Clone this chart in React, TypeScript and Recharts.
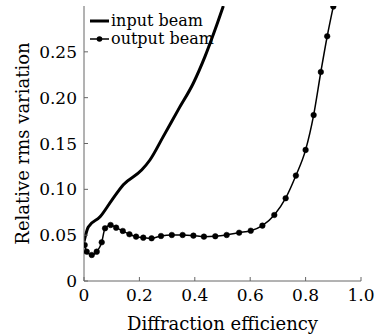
import { LineChart, Line, XAxis, YAxis } from 'recharts';

// input beam (thick line, no markers)
const inputX = [0, 0.0155, 0.058, 0.1, 0.142, 0.208, 0.238, 0.286, 0.34, 0.395, 0.437, 0.473, 0.503];
const inputY = [0.043, 0.059, 0.07, 0.088, 0.105, 0.121, 0.132, 0.1575, 0.1867, 0.216, 0.245, 0.274, 0.3];

// output beam (thin line with dot markers)
const outputX = [
  0.0025, 0.0097, 0.028, 0.046, 0.064, 0.076, 0.096, 0.116, 0.14, 0.164, 0.188, 0.214, 0.244, 0.278, 0.317,
  0.356, 0.395, 0.433, 0.474, 0.515, 0.56, 0.602, 0.644, 0.687, 0.728, 0.765, 0.8, 0.829, 0.855, 0.878, 0.9,
];
const outputY = [
  0.0393, 0.032, 0.0284, 0.032, 0.0422, 0.0575, 0.0611, 0.0582, 0.0546, 0.051, 0.0484, 0.0473, 0.0466, 0.0491,
  0.0502, 0.0502, 0.0495, 0.0484, 0.0488, 0.0502, 0.0527, 0.0549, 0.0604, 0.072, 0.0903, 0.115, 0.143, 0.181,
  0.228, 0.267, 0.2995,
];

const xTicks = [0, 0.2, 0.4, 0.6, 0.8, 1.0];
const yTicks = [0, 0.05, 0.1, 0.15, 0.2, 0.25];

const inputData = inputX.map((x, i) => ({ x, y: inputY[i] }));
const outputData = outputX.map((x, i) => ({ x, y: outputY[i] }));

const FONT = '"DejaVu Serif", serif';
const AXIS = '#666';
const TEXT = '#000';
const TICK_LEN = 4;

const fmtX = (v: number) => (v === 0 ? '0' : v.toFixed(1));
const fmtY = (v: number) => (v === 0 ? '0' : v.toFixed(2));

// ticks point inward, labels outside
const BottomTick = ({ x, y, payload }: any) => (
  <g>
    <line x1={x} x2={x} y1={y} y2={y - TICK_LEN} stroke={AXIS} />
    <text x={x} y={y + 20} textAnchor="middle" fontSize={17} fontFamily={FONT} fill={TEXT}>
      {fmtX(payload.value)}
    </text>
  </g>
);

const LeftTick = ({ x, y, payload }: any) => (
  <g>
    <line x1={x} x2={x + TICK_LEN} y1={y} y2={y} stroke={AXIS} />
    <text x={x - 7} y={y + 6} textAnchor="end" fontSize={17} fontFamily={FONT} fill={TEXT}>
      {fmtY(payload.value)}
    </text>
  </g>
);

const TopTick = ({ x, y }: any) => <line x1={x} x2={x} y1={y} y2={y + TICK_LEN} stroke={AXIS} />;
const RightTick = ({ x, y }: any) => <line x1={x} x2={x - TICK_LEN} y1={y} y2={y} stroke={AXIS} />;

const LegendBox = () => (
  <div
    style={{
      position: 'absolute',
      left: 89,
      top: 12,
      fontFamily: FONT,
      fontSize: 16,
      lineHeight: '18px',
      color: TEXT,
      whiteSpace: 'nowrap',
    }}
  >
    <div style={{ display: 'flex', alignItems: 'center' }}>
      <svg width={22} height={18}>
        <line x1={1} x2={20} y1={9} y2={9} stroke="#000" strokeWidth={3} />
      </svg>
      <span>input beam</span>
    </div>
    <div style={{ display: 'flex', alignItems: 'center' }}>
      <svg width={22} height={18}>
        <line x1={1} x2={20} y1={9} y2={9} stroke="#000" strokeWidth={1.5} />
        <circle cx={10.5} cy={9} r={2.8} fill="#000" />
      </svg>
      <span>output beam</span>
    </div>
  </div>
);

export default function App() {
  return (
    <div style={{ position: 'absolute', left: 0, top: 0, width: 378, height: 334, background: '#fff' }}>
      <LineChart width={378} height={334} margin={{ top: 6, right: 17, bottom: 0, left: 0 }}>
        <XAxis
          dataKey="x"
          type="number"
          domain={[0, 1]}
          ticks={xTicks}
          tick={BottomTick}
          tickSize={0}
          tickMargin={0}
          height={53}
          stroke={AXIS}
          allowDataOverflow
          label={{
            value: 'Diffraction efficiency',
            position: 'insideBottom',
            offset: 4,
            fontSize: 18,
            fontFamily: FONT,
            fill: TEXT,
          }}
        />
        <XAxis
          xAxisId="top"
          orientation="top"
          dataKey="x"
          type="number"
          domain={[0, 1]}
          ticks={xTicks}
          tick={TopTick}
          tickSize={0}
          tickMargin={0}
          height={0}
          stroke={AXIS}
        />
        <YAxis
          type="number"
          domain={[0, 0.3]}
          ticks={yTicks}
          tick={LeftTick}
          tickSize={0}
          tickMargin={0}
          width={84}
          stroke={AXIS}
          allowDataOverflow
          label={{
            value: 'Relative rms variation',
            angle: -90,
            position: 'insideLeft',
            offset: 23,
            fontSize: 18,
            fontFamily: FONT,
            fill: TEXT,
            style: { textAnchor: 'middle' },
          }}
        />
        <YAxis
          yAxisId="right"
          orientation="right"
          type="number"
          domain={[0, 0.3]}
          ticks={yTicks}
          tick={RightTick}
          tickSize={0}
          tickMargin={0}
          width={0}
          stroke={AXIS}
        />
        <Line
          data={inputData}
          dataKey="y"
          type="monotone"
          stroke="#000"
          strokeWidth={3}
          dot={false}
          isAnimationActive={false}
        />
        <Line
          data={outputData}
          dataKey="y"
          type="monotone"
          stroke="#000"
          strokeWidth={1.5}
          dot={{ r: 2.8, fill: '#000', stroke: '#000', strokeWidth: 0.5 }}
          isAnimationActive={false}
        />
      </LineChart>
      <LegendBox />
    </div>
  );
}
